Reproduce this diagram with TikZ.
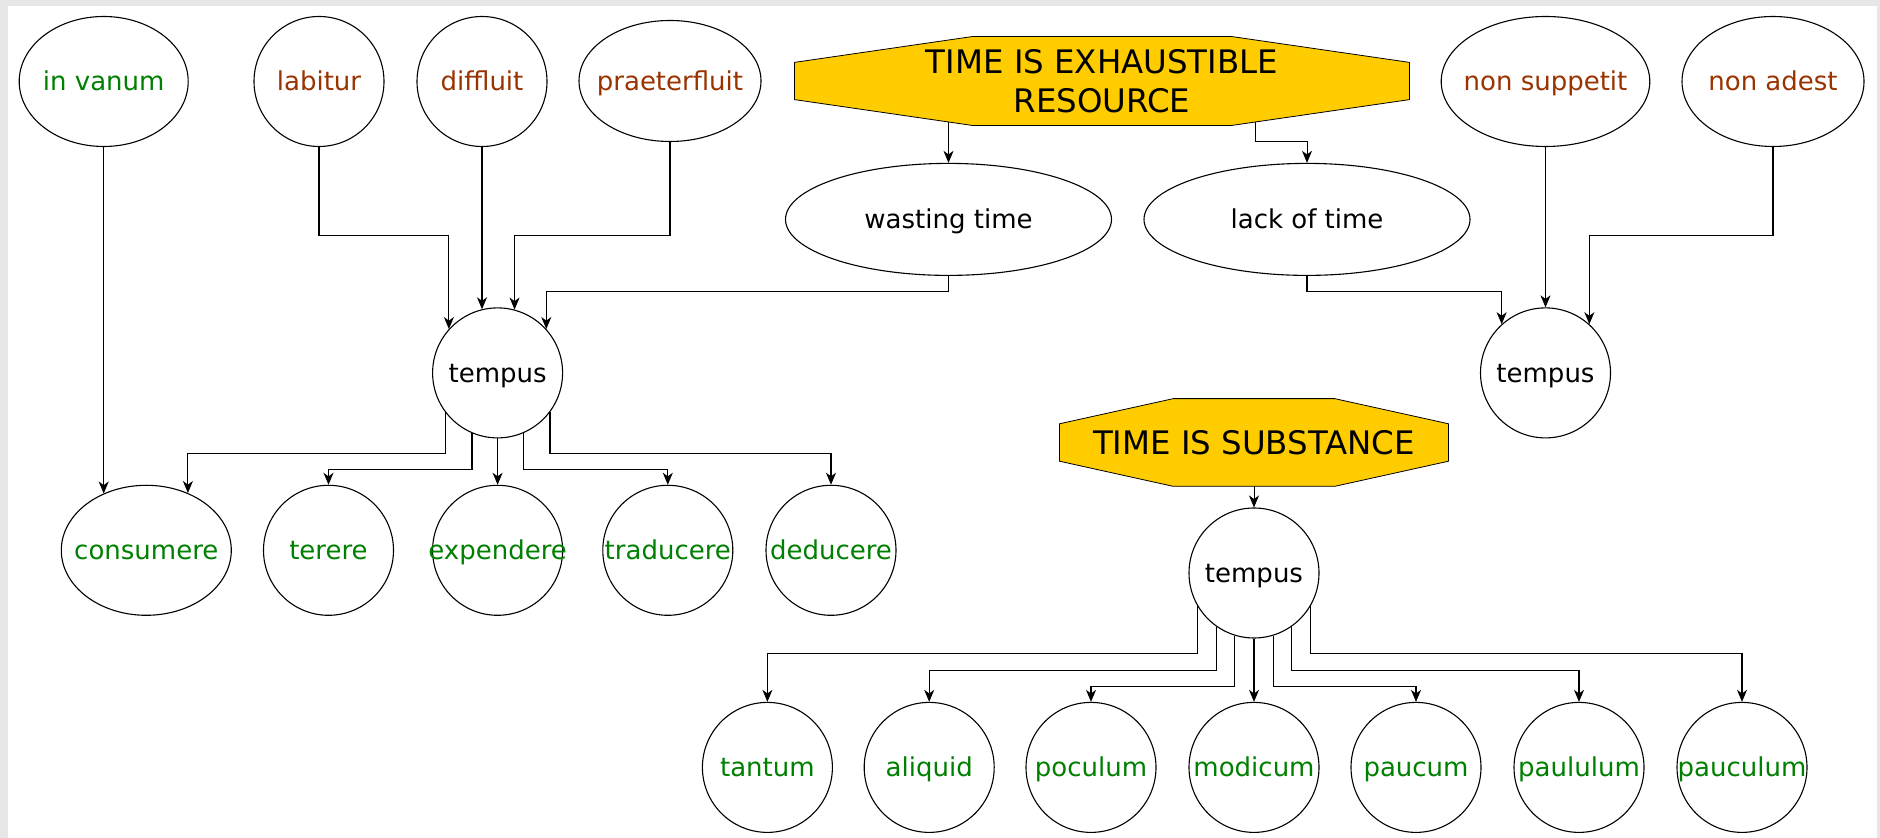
\documentclass[tikz,border=0pt]{standalone}
\usepackage{fontspec}
\setmainfont{DejaVu Sans}
\usepackage{tikz}
\usepackage{xcolor}
\usetikzlibrary{arrows.meta,backgrounds}
\usetikzlibrary{calc}
\usetikzlibrary{shapes.geometric}
\definecolor{leafgreen}{HTML}{008000}
\definecolor{rootbrown}{HTML}{993300}
\definecolor{gold}{HTML}{FFCC00}
\definecolor{framegrey}{HTML}{E6E6E6}
\tikzstyle{place}=[circle, draw=black, minimum size=65pt, inner sep=0pt, text height=9.4pt, text depth=0pt]
\tikzstyle{blob}=[ellipse, draw=black, minimum width=84.5pt, minimum height=65pt, inner sep=0pt, text height=9.4pt, text depth=0pt]
\tikzstyle{banner}=[rectangle, inner sep=0pt, align=center, font=\fontsize{16.2}{19.4}\selectfont]
\tikzset{>={Stealth[length=6pt,width=5pt,inset=1.8pt]}}
\tikzset{every label/.style={text height=9.4pt, text depth=0pt},
         green word/.style={label={[text=leafgreen]center:#1}},
         brown word/.style={label={[text=rootbrown]center:#1}}}
\newcommand{\bannershape}[3]{%
  \filldraw[fill=gold, draw=black] ($(#1.west)+(0,-#3)$) -- ($(#1.north west)+(#2,0)$)
    -- ($(#1.north east)+(-#2,0)$) -- ($(#1.east)+(0,-#3)$) -- ($(#1.east)+(0,#3)$)
    -- ($(#1.south east)+(-#2,0)$) -- ($(#1.south west)+(#2,0)$) -- ($(#1.west)+(0,#3)$) -- cycle;}

\begin{document}
\begin{tikzpicture}[x=0.5pt, y=-0.5pt, line width=0.55pt,
    every node/.style={font=\fontsize{13}{15.6}\selectfont}]
    \draw node at (103.7, 81.5) [blob, green word=in vanum] (invanum) {};
    \draw node at (319, 81.5) [place, brown word=labitur] (labitur) {};
    \draw node at (482, 81.5) [place, brown word=diffluit] (diffluit) {};
    \draw node at (670, 81) [blob, minimum width=91pt, minimum height=60.5pt, brown word=praeterfluit] (praeterfluit) {};
    \draw node at (1102, 81) [banner, minimum width=307pt, minimum height=44pt] (exhaustible) {TIME IS EXHAUSTIBLE\\RESOURCE};
    \draw node at (1545.5, 81.5) [blob, minimum width=104.3pt, brown word=non suppetit] (nonsuppetit) {};
    \draw node at (1773, 81.5) [blob, minimum width=91pt, brown word=non adest] (nonadest) {};

    \draw node at (948.5, 219.4) [blob, minimum width=163pt, minimum height=56pt] (wasting) {wasting time};
    \draw node at (1307, 219.4) [blob, minimum width=163pt, minimum height=56pt] (lack) {lack of time};

    \draw node at (497.6, 372.9) [place] (tempusA) {tempus};
    \draw node at (1545.5, 372.9) [place] (tempusB) {tempus};
    \draw node at (1254, 442.5) [banner, minimum width=194pt, minimum height=43.3pt] (substance) {TIME IS SUBSTANCE};
    \draw node at (1254, 573) [place] (tempusC) {tempus};

    \draw node at (146.3, 550.3) [blob, minimum width=85pt, green word=consumere] (consumere) {};
    \draw node at (328.5, 550.3) [place, green word=terere] (terere) {};
    \draw node at (497.6, 550.3) [place, green word=expendere] (expendere) {};
    \draw node at (667.8, 550.3) [place, green word=traducere] (traducere) {};
    \draw node at (831, 550.3) [place, green word=deducere] (deducere) {};

    \draw node at (767.4, 767.4) [place, green word=tantum] (tantum) {};
    \draw node at (929.2, 767.4) [place, green word=aliquid] (aliquid) {};
    \draw node at (1091, 767.4) [place, green word=poculum] (poculum) {};
    \draw node at (1254, 767.4) [place, green word=modicum] (modicum) {};
    \draw node at (1416, 767.4) [place, green word=paucum] (paucum) {};
    \draw node at (1579, 767.4) [place, green word=paululum] (paululum) {};
    \draw node at (1742, 767.4) [place, green word=pauculum] (pauculum) {};

    \begin{scope}[on background layer]
    \fill[framegrey] (0,0) rectangle (1880,838);
    \fill[white] (8,6) rectangle (1877,838);
    \draw [->] (exhaustible.center -| wasting.north) to (wasting.north);
    \draw [->] ($(exhaustible.center)+(153.5,0)$) -- ++(0,60.5) -| (lack.north);
    \draw [->] (substance.center) to (tempusC.north);
    \bannershape{exhaustible}{178.6}{18.6}
    \bannershape{substance}{113.8}{18.7}
    \end{scope}

    \draw [->] (invanum.south) to (invanum.south |- consumere.127);
    \draw [->] (labitur.south) -- ++(0,88.5) -| (tempusA.138);
    \draw [->] (diffluit.south) to (diffluit.south |- tempusA.104);
    \draw [->] (praeterfluit.south) -- ++(0,93.5) -| (tempusA.75);
    \draw [->] (wasting.south) -- ++(0,16) -| (tempusA.42);

    \draw [->] (lack.south) -- ++(0,16) -| (tempusB.132);
    \draw [->] (nonsuppetit.south) to (tempusB.north);
    \draw [->] (nonadest.south) -- ++(0,88.5) -| (tempusB.48);

    \draw [->] (tempusA.217) -- ++(0,41.3) -| (consumere.54);
    \draw [->] (tempusA.247) -- ++(0,36.5) -| (terere.north);
    \draw [->] (tempusA.south) to (expendere.north);
    \draw [->] (tempusA.293) -- ++(0,36.5) -| (traducere.north);
    \draw [->] (tempusA.323) -- ++(0,41.3) -| (deducere.north);

    \draw [->] (tempusC.210) -- ++(0,47.8) -| (tantum.north);
    \draw [->] (tempusC.235) -- ++(0,43.7) -| (aliquid.north);
    \draw [->] (tempusC.253) -- ++(0,51) -| (poculum.north);
    \draw [->] (tempusC.south) to (modicum.north);
    \draw [->] (tempusC.287) -- ++(0,51) -| (paucum.north);
    \draw [->] (tempusC.305) -- ++(0,43.7) -| (paululum.north);
    \draw [->] (tempusC.330) -- ++(0,47.8) -| (pauculum.north);
\end{tikzpicture}
\end{document}
